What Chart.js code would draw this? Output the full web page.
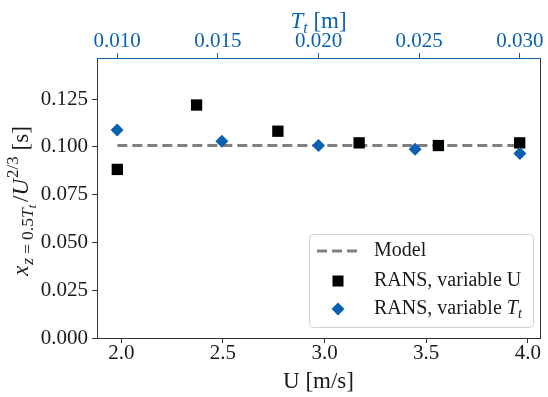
<!DOCTYPE html>
<html>
<head>
<meta charset="utf-8">
<script src="https://cdn.jsdelivr.net/npm/chart.js@4.4.1/dist/chart.umd.min.js"></script>
<style>
  html, body { margin: 0; padding: 0; background: #fff; }
  canvas { display: block; }
</style>
</head>
<body>
<canvas id="chart" width="548" height="397"></canvas>
<script>
// values
const uSpeeds = [1.98, 2.37, 2.77, 3.17, 3.56, 3.96];
const uRatios = [0.0882, 0.1219, 0.1082, 0.1021, 0.1007, 0.1021];
const tDepths = [0.010, 0.0152, 0.020, 0.0248, 0.030];
const tRatios = [0.1088, 0.1030, 0.1007, 0.0988, 0.0965];
const modelSpeeds = [1.98, 3.96];
const modelRatios = [0.1007, 0.1007];
const uTicks = [2.0, 2.5, 3.0, 3.5, 4.0];
const tTicks = [0.010, 0.015, 0.020, 0.025, 0.030];
const yTicks = [0.000, 0.025, 0.050, 0.075, 0.100, 0.125];

const BLUE = '#0b61b0';
const INK = '#1a1a1a';
const SPINE = '#333';
const SERIF = '"Liberation Serif", "Times New Roman", serif';

function fontOf(p) {
    return (p.i ? 'italic ' : '') + p.s + 'px ' + SERIF;
}

// draws a row of text pieces (for sub/superscripts)
function drawPieces(ctx, pieces, x, y, align) {
    let total = 0;
    pieces.forEach(p => {
        ctx.font = fontOf(p);
        p.w = ctx.measureText(p.t).width + (p.pre || 0) + (p.gap || 0);
        total += p.w;
    });
    let cx = align === 'center' ? x - total / 2 : x;
    pieces.forEach(p => {
        ctx.font = fontOf(p);
        ctx.fillText(p.t, cx + (p.pre || 0), y + (p.dy || 0));
        cx += p.w;
    });
    return total;
}

const textPlugin = {
    id: 'texts',
    afterDraw(chart) {
        const ctx = chart.ctx;
        const a = chart.chartArea;
        ctx.save();
        ctx.textAlign = 'left';
        ctx.textBaseline = 'alphabetic';

        // right spine
        ctx.strokeStyle = SPINE;
        ctx.lineWidth = 1;
        ctx.beginPath();
        ctx.moveTo(a.right + 0.5, a.top);
        ctx.lineTo(a.right + 0.5, a.bottom);
        ctx.stroke();

        const mid = (a.left + a.right) / 2;

        // top axis title
        ctx.fillStyle = BLUE;
        drawPieces(ctx, [
            {t: 'T', s: 23, i: true},
            {t: 't', s: 16, i: true, dy: 5},
            {t: ' [m]', s: 23}
        ], mid, 28, 'center');

        // bottom axis title
        ctx.fillStyle = INK;
        drawPieces(ctx, [{t: 'U [m/s]', s: 23}], mid, 388, 'center');

        // y axis title
        ctx.save();
        ctx.translate(28, (a.top + a.bottom) / 2 + 3);
        ctx.rotate(-Math.PI / 2);
        drawPieces(ctx, [
            {t: 'x', s: 23, i: true},
            {t: 'z', s: 17.5, i: true, dy: 5, pre: 1},
            {t: '=', s: 17.5, dy: 5, pre: 4, gap: 4},
            {t: '0.5', s: 17.5, dy: 5},
            {t: 'T', s: 17.5, i: true, dy: 5},
            {t: 't', s: 12.5, i: true, dy: 8, gap: 3},
            {t: '/', s: 23},
            {t: 'U', s: 23, i: true},
            {t: '2/3', s: 17, dy: -10, pre: 1},
            {t: ' [s]', s: 23}
        ], 0, 0, 'center');
        ctx.restore();

        // legend
        ctx.beginPath();
        ctx.roundRect(309.5, 234.5, 224, 93, 4);
        ctx.fillStyle = 'rgba(255,255,255,0.8)';
        ctx.fill();
        ctx.strokeStyle = '#d0d0d0';
        ctx.stroke();

        ctx.strokeStyle = '#808080';
        ctx.lineWidth = 3;
        ctx.setLineDash([10, 5]);
        ctx.beginPath();
        ctx.moveTo(317, 251);
        ctx.lineTo(359, 251);
        ctx.stroke();
        ctx.setLineDash([]);

        ctx.fillStyle = '#000';
        ctx.fillRect(332.5, 275.5, 11, 11);

        ctx.fillStyle = BLUE;
        ctx.beginPath();
        ctx.moveTo(338, 302.5);
        ctx.lineTo(344.5, 309);
        ctx.lineTo(338, 315.5);
        ctx.lineTo(331.5, 309);
        ctx.closePath();
        ctx.fill();

        ctx.fillStyle = INK;
        drawPieces(ctx, [{t: 'Model', s: 20}], 374, 256);
        drawPieces(ctx, [{t: 'RANS, variable U', s: 20}], 374, 286);
        drawPieces(ctx, [
            {t: 'RANS, variable ', s: 20},
            {t: 'T', s: 20, i: true},
            {t: 't', s: 14, i: true, dy: 4}
        ], 374, 314);

        ctx.restore();
    }
};

const tickFont = {family: SERIF, size: 21, lineHeight: 1};

new Chart(document.getElementById('chart'), {
    type: 'scatter',
    data: {
        datasets: [
            {
                label: 'Model',
                data: modelSpeeds.map((u, i) => ({x: u, y: modelRatios[i]})),
                xAxisID: 'x',
                showLine: true,
                borderColor: '#808080',
                borderWidth: 3,
                borderDash: [10, 5],
                pointRadius: 0,
                order: 3
            },
            {
                label: 'RANS, variable U',
                data: uSpeeds.map((u, i) => ({x: u, y: uRatios[i]})),
                xAxisID: 'x',
                pointStyle: 'rect',
                pointRadius: 8,
                backgroundColor: '#000',
                borderWidth: 0,
                order: 2
            },
            {
                label: 'RANS, variable Tt',
                data: tDepths.map((t, i) => ({x: t, y: tRatios[i]})),
                xAxisID: 'x2',
                pointStyle: 'rectRot',
                pointRadius: 6.5,
                backgroundColor: BLUE,
                borderWidth: 0,
                order: 1
            }
        ]
    },
    options: {
        responsive: false,
        animation: false,
        devicePixelRatio: 1,
        layout: {padding: {left: 0, right: 4, top: 0, bottom: 0}},
        plugins: {legend: {display: false}, tooltip: {enabled: false}},
        scales: {
            x: {
                type: 'linear',
                position: 'bottom',
                min: 1.880,
                max: 4.060,
                afterFit: s => { s.height = 59; },
                afterBuildTicks: s => { s.ticks = uTicks.map(v => ({value: v})); },
                ticks: {callback: v => v.toFixed(1), font: tickFont, color: INK, padding: 0, maxRotation: 0},
                grid: {drawOnChartArea: false, tickLength: 5, tickColor: SPINE},
                border: {color: SPINE}
            },
            x2: {
                type: 'linear',
                position: 'top',
                min: 0.009,
                max: 0.031,
                afterFit: s => { s.height = 58; },
                afterBuildTicks: s => { s.ticks = tTicks.map(v => ({value: v})); },
                ticks: {callback: v => v.toFixed(3), font: tickFont, color: BLUE, padding: 1.5, maxRotation: 0},
                grid: {drawOnChartArea: false, tickLength: 5, tickColor: BLUE},
                border: {color: BLUE}
            },
            y: {
                type: 'linear',
                min: 0,
                max: 0.1465,
                afterFit: s => { s.width = 97; },
                afterBuildTicks: s => { s.ticks = yTicks.map(v => ({value: v})); },
                ticks: {callback: v => v.toFixed(3), font: tickFont, color: INK, padding: 4},
                grid: {drawOnChartArea: false, tickLength: 5, tickColor: SPINE},
                border: {color: SPINE}
            }
        }
    },
    plugins: [textPlugin]
});
</script>
</body>
</html>
